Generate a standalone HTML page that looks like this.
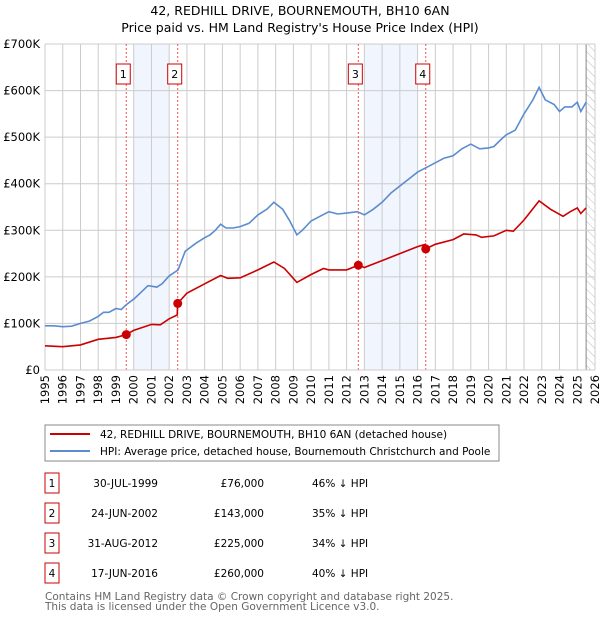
<!DOCTYPE html>
<html><head><meta charset="utf-8"><style>
body{margin:0;background:#fff;font-family:"Liberation Sans","DejaVu Sans",sans-serif;}
svg text{font-family:"DejaVu Sans","Liberation Sans",sans-serif;}
</style></head><body>
<svg id="c" width="600" height="620" xmlns="http://www.w3.org/2000/svg">
<defs><pattern id="hatch" width="6" height="6" patternUnits="userSpaceOnUse" patternTransform="rotate(-45)"><line x1="0" y1="0" x2="0" y2="6" stroke="#bbb" stroke-width="1"/></pattern></defs>
<text x="300" y="15" text-anchor="middle" font-size="12.5" fill="#000">42, REDHILL DRIVE, BOURNEMOUTH, BH10 6AN</text>
<text x="300" y="32" text-anchor="middle" font-size="12.5" fill="#000">Price paid vs. HM Land Registry's House Price Index (HPI)</text>
<g id="plot"></g>
<rect x="45" y="425" width="454" height="36" fill="#fff" stroke="#888"/>
<line x1="50" y1="434" x2="90" y2="434" stroke="#cc0000" stroke-width="2"/>
<text x="100" y="438" font-size="10.5">42, REDHILL DRIVE, BOURNEMOUTH, BH10 6AN (detached house)</text>
<line x1="50" y1="451" x2="90" y2="451" stroke="#5b8ccf" stroke-width="2"/>
<text x="100" y="455" font-size="10.5">HPI: Average price, detached house, Bournemouth Christchurch and Poole</text>
<g id="table"></g>
<text x="45" y="600" font-size="10.5" fill="#666">Contains HM Land Registry data © Crown copyright and database right 2025.</text>
<text x="45" y="610" font-size="10.5" fill="#666">This data is licensed under the Open Government Licence v3.0.</text>
</svg>
<script>
const yearTicks=[1995,1996,1997,1998,1999,2000,2001,2002,2003,2004,2005,2006,2007,2008,2009,2010,2011,2012,2013,2014,2015,2016,2017,2018,2019,2020,2021,2022,2023,2024,2025,2026];
const valueTicks=[0,100,200,300,400,500,600,700];
const valueLabels=["£0","£100K","£200K","£300K","£400K","£500K","£600K","£700K"];
const hpiT=[1995,1995.5,1996,1996.5,1997,1997.5,1998,1998.3,1998.6,1999,1999.3,1999.57,2000,2000.5,2000.8,2001,2001.3,2001.6,2002,2002.5,2002.9,2003.5,2004,2004.3,2004.6,2004.9,2005.2,2005.6,2006,2006.5,2007,2007.5,2007.9,2008.4,2008.8,2009.2,2009.5,2010,2010.5,2011,2011.5,2012,2012.6,2013,2013.5,2014,2014.5,2015,2015.5,2016,2016.5,2017,2017.5,2018,2018.5,2019,2019.5,2020,2020.3,2020.7,2021,2021.5,2022,2022.5,2022.85,2023.2,2023.7,2024,2024.3,2024.7,2025,2025.2,2025.5];
const hpiV=[95,95,93,94,100,105,115,124,124,132,130,140,152,170,181,180,178,185,202,215,255,272,284,290,300,313,305,305,308,315,333,345,360,345,320,290,300,320,330,340,335,337,340,333,345,360,380,395,410,425,435,445,455,460,475,485,475,477,480,495,505,515,550,580,607,580,570,555,565,565,575,555,575];
const redT=[1995,1996,1997,1998,1999,1999.57,2000,2001,2001.5,2002,2002.45,2002.48,2003,2004,2004.9,2005.3,2006,2007,2007.9,2008.5,2009.2,2010,2010.7,2011,2012,2012.66,2013,2014,2015,2016,2016.44,2016.46,2017,2018,2018.6,2019.3,2019.6,2020.3,2021,2021.4,2022,2022.85,2023.5,2024.2,2024.6,2025,2025.2,2025.5];
const redV=[52,50,54,66,70,76,85,98,97,110,118,143,165,185,203,197,198,215,232,218,188,205,218,215,215,225,220,235,250,265,270,260,270,280,292,290,285,288,300,298,322,363,345,330,340,348,336,348];
const saleLabels=["1","2","3","4"];
const saleT=[1999.58,2002.48,2012.66,2016.46];
const saleV=[76,143,225,260];
const saleDates=["30-JUL-1999","24-JUN-2002","31-AUG-2012","17-JUN-2016"];
const salePrices=["£76,000","£143,000","£225,000","£260,000"];
const saleDiff=["46% ↓ HPI","35% ↓ HPI","34% ↓ HPI","40% ↓ HPI"];
const shadeFrom=[2000,2013];
const shadeTo=[2002,2016];

const NS="http://www.w3.org/2000/svg";
const X0=45,X1=595,Y0=370,Y1=44;
const sx=t=>X0+(t-1995)/(2026-1995)*(X1-X0);
const sy=v=>Y0-v/700*(Y0-Y1);
const plot=document.getElementById('plot');
function mk(tag,attrs,parent){const e=document.createElementNS(NS,tag);for(const k in attrs)e.setAttribute(k,attrs[k]);(parent||plot).appendChild(e);return e;}
for(let i=0;i<shadeFrom.length;i++){
 const r=mk('rect',{x:sx(shadeFrom[i]),y:Y1,width:sx(shadeTo[i])-sx(shadeFrom[i]),height:Y0-Y1,fill:'#eef3fc',opacity:0.8});
 
 
}
const hx=sx(2025.5);
const hr=mk('rect',{x:hx,y:Y1,width:X1-hx,height:Y0-Y1,fill:'url(#hatch)'});


mk('line',{x1:hx,y1:Y1,x2:hx,y2:Y0,stroke:'#888','stroke-width':1});
yearTicks.forEach(y=>{
 const l=mk('line',{x1:sx(y),y1:Y1,x2:sx(y),y2:Y0,stroke:'#ccc','stroke-width':1});
 
 
 const t=mk('text',{x:0,y:0,'font-size':11.5,'text-anchor':'end',transform:`translate(${sx(y)+4},${Y0+5}) rotate(-90)`});
 t.textContent=y;
 
 
});
valueTicks.forEach((v,i)=>{
 const l=mk('line',{x1:X0,y1:sy(v),x2:X1,y2:sy(v),stroke:'#ccc','stroke-width':1});
 
 
 const t=mk('text',{x:40,y:sy(v)+4,'font-size':11.5,'text-anchor':'end'});
 t.textContent=valueLabels[i];
 
 
});
saleT.forEach((t,i)=>{
 const l=mk('line',{x1:sx(t),y1:Y1,x2:sx(t),y2:Y0,stroke:'#ee5555','stroke-width':1,'stroke-dasharray':'2,2'});
 
 
 const b=mk('rect',{x:sx(t)-10,y:64,width:14,height:20,fill:'#fff',stroke:'#cc0000','stroke-width':1});
 
 
 const tx=mk('text',{x:sx(t)-3,y:78,'font-size':11,'text-anchor':'middle'});
 tx.textContent=saleLabels[i];
 
 
});
function path(T,V,color,name){
 const p=mk('path',{d:T.map((t,i)=>(i?'L':'M')+sx(t).toFixed(1)+','+sy(V[i]).toFixed(1)).join(''),fill:'none',stroke:color,'stroke-width':1.6});
 
 
}
path(hpiT,hpiV,'#5b8ccf','hpi-line');
path(redT,redV,'#cc0000','price-paid-line');
saleT.forEach((t,i)=>{
 const c=mk('circle',{cx:sx(t),cy:sy(saleV[i]),r:4.5,fill:'#cc0000'});
 
 
});
mk('line',{x1:X0,y1:Y0,x2:X1,y2:Y0,stroke:'#ccc'});
const tb=document.getElementById('table');
saleLabels.forEach((s,i)=>{
 const y=473+i*30;
 const b=mk('rect',{x:45,y:y,width:14,height:20,fill:'#fff',stroke:'#cc0000','stroke-width':1},tb);
 
 
 const cols=[[52,s,'middle'],[158,saleDates[i],'end'],[264,salePrices[i],'end'],[312,saleDiff[i],'start']];
 cols.forEach(c=>{
  const t=mk('text',{x:c[0],y:y+14,'font-size':10.5,'text-anchor':c[2]},tb);
  t.textContent=c[1];
  
  
 });
});
</script>
</body></html>
